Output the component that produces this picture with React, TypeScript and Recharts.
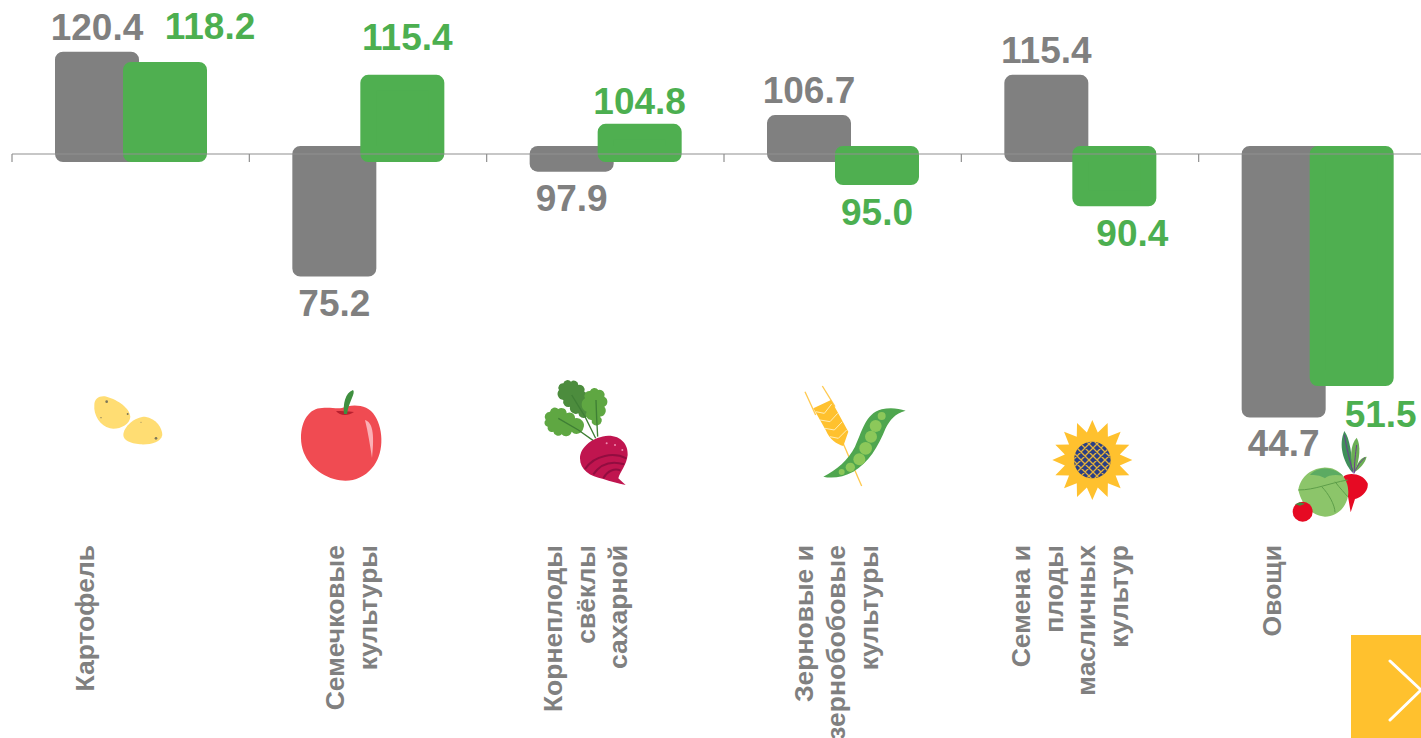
import { BarChart, Bar, XAxis, YAxis, ReferenceLine, LabelList } from "recharts";

const categories = [
  "Картофель",
  "Семечковые культуры",
  "Корнеплоды свёклы сахарной",
  "Зерновые и зернобобовые культуры",
  "Семена и плоды масличных культур",
  "Овощи",
];
const categoryLines = [
  ["Картофель"],
  ["Семечковые", "культуры"],
  ["Корнеплоды", "свёклы", "сахарной"],
  ["Зерновые и", "зернобобовые", "культуры"],
  ["Семена и", "плоды", "масличных", "культур"],
  ["Овощи"],
];
const grayValues = [120.4, 75.2, 97.9, 106.7, 115.4, 44.7];
const greenValues = [118.2, 115.4, 104.8, 95.0, 90.4, 51.5];

const BASELINE = 100;
const GRAY = "#808080";
const GREEN = "#4FAF50";
const FONT = '"Liberation Sans", Arial, sans-serif';

// hand placement of the green value labels, which dodge the icons in the original
const greenLabelShift = [
  [45, -11],
  [5, -13],
  [0, 2],
  [0, 1],
  [18, 1],
  [29, 2],
];
const tickLineShift = [-37, -24, -43, -30, -50, -36];

const chartData = categories.map((name, i) => ({
  name,
  gray: [BASELINE, grayValues[i]],
  green: [BASELINE, greenValues[i]],
}));

function ValueLabel({ x, y, width, height, index, values, color, shifts }: any) {
  const v = values[index];
  const top = Math.min(y, y + height);
  const bottom = Math.max(y, y + height);
  const [dx, dy] = shifts ? shifts[index] : [0, 0];
  const baseY = v >= BASELINE ? top - 20 : bottom + 47;
  return (
    <text
      x={x + width / 2 + dx}
      y={baseY + dy}
      textAnchor="middle"
      fill={color}
      fontFamily={FONT}
      fontWeight={700}
      fontSize={37}
    >
      {v.toFixed(1)}
    </text>
  );
}

function CategoryTick({ x, index }: any) {
  const lines = categoryLines[index];
  return (
    <g>
      {lines.map((line, i) => {
        const bx = x + tickLineShift[index] + i * 32.5;
        return (
          <text
            key={line}
            x={bx}
            y={545}
            transform={`rotate(-90 ${bx} 545)`}
            textAnchor="end"
            fill={GRAY}
            fontFamily={FONT}
            fontWeight={700}
            fontSize={26.5}
          >
            {line}
          </text>
        );
      })}
    </g>
  );
}

function AxisLine({ x1, x2, y1 }: any) {
  const step = (x2 - x1) / categories.length;
  return (
    <g stroke="#8f8f8f" strokeWidth={1.2}>
      <line x1={x1} x2={x2} y1={y1} y2={y1} />
      {categories.map((c, i) => (
        <line key={c} x1={x1 + i * step} x2={x1 + i * step} y1={y1} y2={y1 + 8} />
      ))}
    </g>
  );
}

// icons are traced at 3x, so each group scales back down
function Icon({ x, y, children }: any) {
  return <g transform={`translate(${x} ${y}) scale(0.3333)`}>{children}</g>;
}

// scalloped outline through the given points, for the beet leaves
function Lobed({ pts, fill }: { pts: number[][]; fill: string }) {
  let d = `M${pts[0][0]} ${pts[0][1]}`;
  pts.forEach((p, i) => {
    const n = pts[(i + 1) % pts.length];
    const r = Math.hypot(n[0] - p[0], n[1] - p[1]) * 0.56;
    d += ` A${r} ${r} 0 0 1 ${n[0]} ${n[1]}`;
  });
  return <path d={d + " Z"} fill={fill} />;
}

function Potatoes() {
  return (
    <Icon x={85} y={385}>
      <path d="M28 60 C28 40 45 30 65 35 C100 45 135 70 136 95 C135 120 100 135 75 130 C45 122 25 90 28 60 Z" fill="#FFDD73" />
      <path d="M115 150 C115 125 150 95 180 95 C215 100 232 130 232 150 C228 172 195 180 165 178 C135 175 115 165 115 150 Z" fill="#FFDD73" />
      <g fill="#7d7659">
        <circle cx={65} cy={50} r={4} />
        <circle cx={128} cy={87} r={3} />
        <circle cx={48} cy={98} r={2} />
        <circle cx={213} cy={160} r={4} />
        <circle cx={168} cy={112} r={1.5} />
      </g>
    </Icon>
  );
}

function Apple() {
  return (
    <g>
      <path d="M342 408 C352 404 368 404 375 416 C384 430 384 455 372 468 C362 480 348 483 334 479 C316 474 301 458 301 438 C301 420 310 408 322 408 C330 407 336 409 342 408 Z" fill="#F04B52" />
      <path d="M336 411 C340 416 348 416 354 412 C348 411 342 411 336 411 Z" fill="#B8202F" />
      <path d="M344 414 C343 404 345 393 353 390 C356 393 349 401 347 414 Z" fill="#3F8F3F" />
      <path d="M365 420 C372 422 375 432 372 458 C370 445 368 432 365 420 Z" fill="#FBB0B6" />
    </g>
  );
}

function Beet() {
  return (
    <Icon x={535} y={375}>
      <Lobed
        pts={[[72, 45], [85, 25], [108, 20], [130, 30], [148, 50], [155, 75], [150, 100], [155, 125], [130, 115], [105, 95], [85, 75]]}
        fill="#4C8C3D"
      />
      <Lobed
        pts={[[150, 70], [165, 48], [190, 45], [208, 65], [208, 95], [195, 125], [190, 150], [170, 135], [155, 110]]}
        fill="#5FA742"
      />
      <Lobed
        pts={[[32, 135], [45, 110], [70, 102], [95, 115], [120, 130], [145, 160], [110, 170], [80, 178], [55, 170], [38, 155]]}
        fill="#5FA742"
      />
      <g stroke="#3F7F35" strokeWidth={4} fill="none">
        <path d="M110 60 L150 125 L182 190" />
        <path d="M183 75 L185 130 L188 185" />
        <path d="M70 130 L130 165 L175 197" />
      </g>
      <path d="M135 250 C135 215 175 185 220 182 C260 182 280 210 278 240 C275 270 255 290 250 310 L272 330 C250 325 225 320 205 312 C165 305 135 285 135 250 Z" fill="#C0154F" />
      <g stroke="#920D40" strokeWidth={6} fill="none">
        <path d="M150 282 C180 238 238 232 274 250" />
        <path d="M175 298 C200 262 235 258 268 268" />
        <path d="M205 310 C218 285 240 280 256 286" />
      </g>
      <g fill="#EE8DB0">
        <circle cx={215} cy={205} r={3} />
        <circle cx={240} cy={210} r={3} />
        <circle cx={262} cy={225} r={3} />
      </g>
    </Icon>
  );
}

function WheatPea() {
  return (
    <Icon x={795} y={380}>
      <g stroke="#FFC94F" strokeWidth={4} fill="none">
        <line x1={30} y1={35} x2={62} y2={105} />
        <line x1={82} y1={18} x2={120} y2={80} />
        <line x1={140} y1={180} x2={200} y2={318} />
      </g>
      <path d="M55 85 L108 60 L160 155 L145 198 C125 192 105 180 92 150 Z" fill="#FFC12E" />
      <g stroke="#FFEDB5" strokeWidth={3} fill="none">
        <path d="M62 95 L88 100 L110 72" />
        <path d="M75 120 L105 125 L128 100" />
        <path d="M90 145 L118 150 L142 125" />
        <path d="M105 170 L130 175 L155 150" />
      </g>
      <path d="M85 290 C125 270 160 240 180 200 C200 160 210 100 260 88 C285 82 310 85 332 92 C300 100 285 120 272 145 C250 200 220 250 175 275 C145 292 110 296 85 290 Z" fill="#4FA64F" />
      <g fill="#8CC85A">
        <circle cx={260} cy={108} r={12} />
        <circle cx={242} cy={138} r={18} />
        <circle cx={228} cy={170} r={18} />
        <circle cx={212} cy={205} r={19} />
        <circle cx={193} cy={238} r={18} />
        <circle cx={166} cy={262} r={14} />
        <circle cx={140} cy={276} r={9} />
      </g>
    </Icon>
  );
}

function Sunflower() {
  const points: string[] = [];
  for (let i = 0; i < 32; i++) {
    const r = i % 2 ? 84 : 120;
    const a = (i * Math.PI) / 16 - Math.PI / 2;
    points.push(`${142 + r * Math.cos(a)},${135 + r * Math.sin(a)}`);
  }
  const lattice: string[] = [];
  for (let o = -130; o <= 130; o += 24) {
    lattice.push(`M${142 + o - 70} 65 L${142 + o + 70} 205`);
    lattice.push(`M${142 + o + 70} 65 L${142 + o - 70} 205`);
  }
  return (
    <Icon x={1045} y={415}>
      <clipPath id="disc">
        <circle cx={142} cy={135} r={55} />
      </clipPath>
      <polygon points={points.join(" ")} fill="#FFC12E" />
      <circle cx={142} cy={135} r={55} fill="#2A3F85" />
      <path d={lattice.join(" ")} clipPath="url(#disc)" stroke="#E5B23A" strokeWidth={4} />
    </Icon>
  );
}

function Vegetables() {
  return (
    <Icon x={1285} y={425}>
      <path d="M200 140 C175 110 160 60 178 18 C195 40 200 90 205 140 Z" fill="#3F8F5A" />
      <path d="M205 140 C195 100 195 60 215 38 C228 60 225 100 210 140 Z" fill="#6BAE54" />
      <path d="M210 140 C215 115 228 95 245 95 C240 115 225 130 210 140 Z" fill="#6BAE54" />
      <g stroke="#6A3D8F" strokeWidth={3} fill="none">
        <path d="M205 145 C195 110 185 70 178 30" />
        <path d="M208 145 C208 110 212 85 215 60" />
        <path d="M209 140 C218 120 228 108 240 98" />
      </g>
      <path d="M175 155 C190 140 235 145 248 175 C252 200 225 220 210 222 L197 262 L190 220 Z" fill="#E60A23" />
      <path d="M115 128 C160 125 190 160 190 200 C190 240 160 275 120 275 C80 272 50 240 40 195 C45 160 75 130 115 128 Z" fill="#8CC56A" />
      <path d="M75 150 C95 125 140 122 175 152 C150 148 130 150 120 160 C105 150 90 150 75 150 Z" fill="#5CAB62" />
      <g stroke="#5D9E49" strokeWidth={3} fill="none">
        <path d="M40 195 C90 195 130 175 188 165" />
        <path d="M110 185 C130 205 150 240 150 262" />
        <path d="M150 170 C165 190 180 205 188 215" />
      </g>
      <circle cx={53} cy={260} r={30} fill="#E60A23" />
      <path d="M30 238 L45 232 L60 236 L45 242 Z" fill="#3F8F3F" />
    </Icon>
  );
}

export default function App() {
  return (
    <div style={{ position: "fixed", left: 0, top: 0, width: 1421, height: 738, overflow: "hidden", background: "#fff" }}>
      <BarChart
        width={1450}
        height={738}
        data={chartData}
        margin={{ top: 15.4, right: 14, bottom: 60.6, left: 12 }}
        barSize={68}
        barGap={0}
      >
        <YAxis hide domain={[30, 130]} />
        <XAxis
          dataKey="name"
          height={200}
          interval={0}
          axisLine={false}
          tickLine={false}
          tick={<CategoryTick />}
        />
        <Bar
          dataKey="gray"
          fill={GRAY}
          stroke={GRAY}
          strokeWidth={16}
          strokeLinejoin="round"
          isAnimationActive={false}
        >
          <LabelList content={<ValueLabel values={grayValues} color={GRAY} />} />
        </Bar>
        <Bar
          dataKey="green"
          fill={GREEN}
          stroke={GREEN}
          strokeWidth={16}
          strokeLinejoin="round"
          isAnimationActive={false}
        >
          <LabelList content={<ValueLabel values={greenValues} color="#4CAF50" shifts={greenLabelShift} />} />
        </Bar>
        <ReferenceLine y={BASELINE} shape={<AxisLine />} />
      </BarChart>
      <svg width={1421} height={738} style={{ position: "absolute", left: 0, top: 0 }}>
        <Potatoes />
        <Apple />
        <Beet />
        <WheatPea />
        <Sunflower />
        <Vegetables />
        <rect x={1351} y={635} width={70} height={103} fill="#FFC12E" />
        <path d="M1390 661 L1421 690 L1390 720" fill="none" stroke="#fff" strokeWidth={3} strokeLinecap="round" />
      </svg>
    </div>
  );
}
